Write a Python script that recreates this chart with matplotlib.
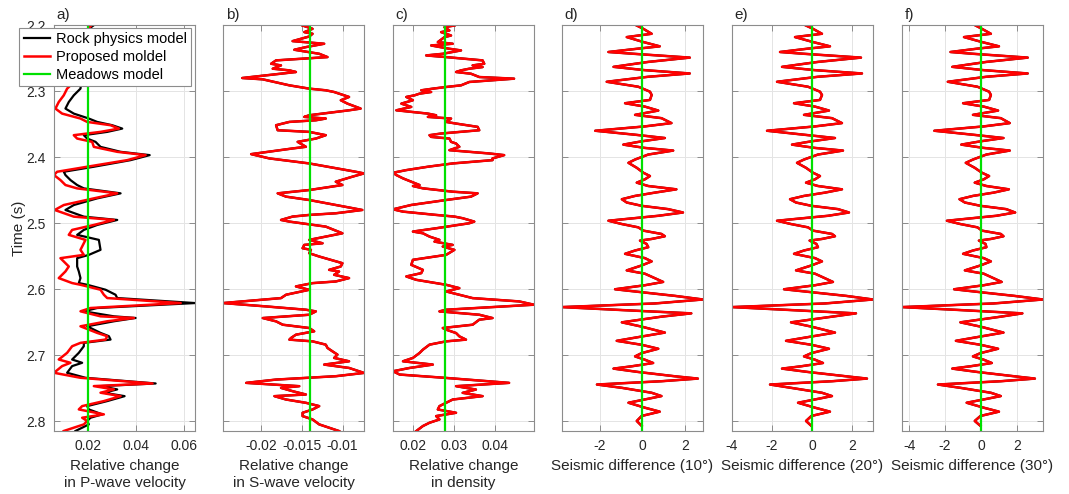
import numpy as np
import matplotlib
matplotlib.use("Agg")
import matplotlib.pyplot as plt

plt.rcParams['font.family'] = ['Liberation Sans', 'DejaVu Sans']
plt.rcParams['axes.unicode_minus'] = False

# panel a: relative change in P-wave velocity
ta = [2.200, 2.204, 2.215, 2.230, 2.245, 2.260, 2.275, 2.290, 2.2964, 2.3065, 2.3166, 2.3266, 2.3342, 2.3417,
      2.3468, 2.3518, 2.3569, 2.3619, 2.3669, 2.372, 2.377, 2.3846, 2.3921, 2.3971, 2.4047, 2.4147, 2.4223,
      2.4273, 2.4349, 2.4424, 2.4475, 2.455, 2.4626, 2.4727, 2.4802, 2.4903, 2.4953, 2.5029, 2.5104, 2.5179,
      2.5255, 2.5406, 2.5482, 2.5532, 2.5658, 2.5733, 2.5834, 2.5909, 2.5935, 2.601, 2.6086, 2.6136, 2.6212,
      2.6287, 2.6337, 2.6413, 2.6438, 2.6488, 2.6564, 2.6664, 2.6714, 2.6765, 2.6815, 2.6866, 2.6966, 2.7067,
      2.7117, 2.7167, 2.7268, 2.7344, 2.743, 2.747, 2.752, 2.757, 2.7622, 2.7697, 2.7773, 2.7823, 2.7898,
      2.7949, 2.7999, 2.805, 2.815]
vp_proposed = [0.0215, 0.0205, 0.018, 0.016, 0.019, 0.014, 0.017, 0.013, 0.0112, 0.0098, 0.0077, 0.0063, 0.0091,
               0.0168, 0.0196, 0.0294, 0.0329, 0.0252, 0.0140, 0.0154, 0.0217, 0.0224, 0.0322, 0.0441, 0.0364,
               0.0196, 0.0070, 0.0057, 0.0084, 0.0105, 0.0154, 0.0322, 0.0224, 0.0098, 0.0060, 0.0140, 0.0308,
               0.0224, 0.0133, 0.0119, 0.0189, 0.0168, 0.0182, 0.0084, 0.0119, 0.0105, 0.0077, 0.0133, 0.0168,
               0.0252, 0.0266, 0.0280, 0.0588, 0.0210, 0.0168, 0.0252, 0.0392, 0.0280, 0.0168, 0.0238, 0.0280,
               0.0273, 0.0168, 0.0133, 0.0112, 0.0077, 0.0126, 0.0091, 0.0057, 0.0168, 0.0470, 0.0224, 0.0308,
               0.0252, 0.0336, 0.0266, 0.0175, 0.0161, 0.0266, 0.0175, 0.0196, 0.0182, 0.0098]
vp_rock = [0.0225, 0.0210, 0.021, 0.019, 0.022, 0.018, 0.020, 0.017, 0.0168, 0.0140, 0.0119, 0.0105, 0.0140,
           0.0203, 0.0238, 0.0301, 0.0343, 0.0280, 0.0182, 0.0196, 0.0231, 0.0252, 0.0336, 0.0458, 0.0378,
           0.0224, 0.0098, 0.0105, 0.0126, 0.0154, 0.0182, 0.0336, 0.0238, 0.0140, 0.0105, 0.0182, 0.0322,
           0.0238, 0.0182, 0.0154, 0.0245, 0.0252, 0.0203, 0.0154, 0.0154, 0.0161, 0.0168, 0.0161, 0.0196,
           0.0273, 0.0315, 0.0322, 0.0648, 0.0238, 0.0182, 0.0308, 0.0399, 0.0308, 0.0196, 0.0252, 0.0287,
           0.0294, 0.0182, 0.0182, 0.0161, 0.0133, 0.0175, 0.0133, 0.0112, 0.0189, 0.0483, 0.0252, 0.0322,
           0.0266, 0.0353, 0.0280, 0.0196, 0.0203, 0.0259, 0.0210, 0.0196, 0.0203, 0.0147]

# panel b: relative change in S-wave velocity
tb = [2.2008, 2.2058, 2.2108, 2.2133, 2.2174, 2.2244, 2.2284, 2.2335, 2.2375, 2.2436, 2.2486, 2.2536, 2.2587,
      2.2612, 2.2662, 2.2687, 2.2712, 2.2803, 2.2823, 2.2914, 2.2964, 2.2989, 2.3015, 2.309, 2.314, 2.3191,
      2.3266, 2.3292, 2.3367, 2.3392, 2.3417, 2.3443, 2.3468, 2.3518, 2.3594, 2.3619, 2.3669, 2.372, 2.377,
      2.3845, 2.387, 2.3956, 2.4021, 2.4097, 2.4223, 2.4248, 2.4298, 2.4374, 2.4424, 2.45, 2.455, 2.46,
      2.4651, 2.4802, 2.4852, 2.4877, 2.4902, 2.4953, 2.4978, 2.5054, 2.5105, 2.5155, 2.5205, 2.5255,
      2.5306, 2.5331, 2.5381, 2.5406, 2.5457, 2.5507, 2.5608, 2.5658, 2.5709, 2.5734, 2.5784, 2.5834,
      2.5885, 2.591, 2.596, 2.6011, 2.6086, 2.6137, 2.6212, 2.6263, 2.6313, 2.6338, 2.6389, 2.6439, 2.6489,
      2.654, 2.659, 2.664, 2.6691, 2.6741, 2.6766, 2.6792, 2.6842, 2.6892, 2.6943, 2.6993, 2.7043, 2.7094,
      2.7144, 2.7195, 2.727, 2.732, 2.7371, 2.7421, 2.7471, 2.7497, 2.7547, 2.7597, 2.7622, 2.7673, 2.7723,
      2.7773, 2.7824, 2.7874, 2.7924, 2.7975, 2.805, 2.8151]
vs_proposed = [-0.01493, -0.0137, -0.01472, -0.0137, -0.01411, -0.01616, -0.01227, -0.01452, -0.01595,
               -0.01288, -0.01186, -0.0182, -0.01881, -0.01759, -0.01861, -0.01656, -0.01575, -0.02237,
               -0.01984, -0.01656, -0.01411, -0.01207, -0.01104, -0.0092, -0.01022, -0.0094, -0.00777,
               -0.0092, -0.01411, -0.01472, -0.01207, -0.01329, -0.01656, -0.0182, -0.018, -0.01411,
               -0.01207, -0.01329, -0.01554, -0.01452, -0.01616, -0.02127, -0.01902, -0.01411, -0.00838,
               -0.00736, -0.0088, -0.01084, -0.01002, -0.01411, -0.018, -0.01697, -0.01411, -0.00757,
               -0.01084, -0.01411, -0.01616, -0.01759, -0.01656, -0.01207, -0.01104, -0.01002, -0.01207,
               -0.01411, -0.01247, -0.01472, -0.01493, -0.0139, -0.01411, -0.01288, -0.01002, -0.01022,
               -0.01166, -0.01043, -0.01104, -0.0092, -0.01084, -0.0137, -0.01575, -0.01411, -0.01697,
               -0.01759, -0.02474, -0.01943, -0.01452, -0.01329, -0.01411, -0.01984, -0.0182, -0.01738,
               -0.01411, -0.0135, -0.01575, -0.01636, -0.01656, -0.0137, -0.01207, -0.01186, -0.01125,
               -0.01063, -0.01104, -0.0092, -0.01227, -0.0092, -0.00736, -0.01084, -0.0182, -0.02188,
               -0.01534, -0.01759, -0.01616, -0.01452, -0.0184, -0.01697, -0.01452, -0.01288, -0.0137,
               -0.01493, -0.01493, -0.0137, -0.01288, -0.01043]

# panel c: relative change in density
tc = [2.2008, 2.2033, 2.2083, 2.2108, 2.2159, 2.2184, 2.2259, 2.2284, 2.231, 2.236, 2.2385, 2.2436, 2.2461,
      2.2486, 2.2536, 2.2587, 2.2612, 2.2637, 2.2662, 2.2687, 2.2712, 2.2738, 2.2788, 2.2813, 2.2863, 2.2914,
      2.2939, 2.2964, 2.2989, 2.3015, 2.304, 2.3065, 2.309, 2.314, 2.3191, 2.3241, 2.3292, 2.3342, 2.3367,
      2.3392, 2.3417, 2.3468, 2.3493, 2.3543, 2.3594, 2.3644, 2.3669, 2.3695, 2.372, 2.377, 2.3795, 2.3845,
      2.3896, 2.3946, 2.3971, 2.4021, 2.4047, 2.4097, 2.4147, 2.4198, 2.4238, 2.4273, 2.4323, 2.4374, 2.4424,
      2.4439, 2.4474, 2.4525, 2.455, 2.46, 2.4651, 2.4726, 2.4792, 2.4827, 2.4877, 2.4902, 2.4927, 2.4978,
      2.5003, 2.5079, 2.5129, 2.5155, 2.5205, 2.5255, 2.5281, 2.5331, 2.5356, 2.5406, 2.5482, 2.5557, 2.5633,
      2.5709, 2.5759, 2.5809, 2.586, 2.5935, 2.5986, 2.6036, 2.6086, 2.6137, 2.6187, 2.6237, 2.6313, 2.6338,
      2.6389, 2.6439, 2.6464, 2.654, 2.659, 2.6615, 2.6666, 2.6716, 2.6766, 2.6792, 2.6842, 2.6918, 2.6968,
      2.7043, 2.7094, 2.7144, 2.7195, 2.7245, 2.7295, 2.7346, 2.7421, 2.7471, 2.7522, 2.7572, 2.7622, 2.7673,
      2.7773, 2.7824, 2.7874, 2.7924, 2.7975, 2.8025, 2.8075, 2.8151]
rho_proposed = [0.03008, 0.02766, 0.02887, 0.02685, 0.02927, 0.02766, 0.02605, 0.02967, 0.02443, 0.02887,
                0.03169, 0.02725, 0.02322, 0.02806, 0.03693, 0.03733, 0.03451, 0.03693, 0.0337, 0.03169,
                0.03048, 0.0341, 0.03612, 0.04458, 0.0337, 0.03169, 0.02806, 0.02484, 0.02202, 0.02443,
                0.02161, 0.0204, 0.01839, 0.02, 0.01718, 0.0196, 0.01597, 0.02363, 0.02564, 0.02363, 0.02927,
                0.02806, 0.03048, 0.03572, 0.03612, 0.02685, 0.02403, 0.02443, 0.02887, 0.02927, 0.03048,
                0.03128, 0.02887, 0.03854, 0.04217, 0.03934, 0.03934, 0.02967, 0.02363, 0.01839, 0.01516,
                0.01597, 0.01758, 0.0196, 0.02161, 0.02, 0.02242, 0.02967, 0.03572, 0.0341, 0.02806, 0.0196,
                0.01516, 0.01758, 0.02564, 0.03008, 0.03209, 0.03491, 0.0337, 0.02564, 0.02, 0.02242, 0.02403,
                0.02645, 0.02524, 0.02967, 0.02725, 0.03008, 0.02806, 0.02, 0.0196, 0.02242, 0.02202, 0.01839,
                0.02081, 0.02806, 0.03128, 0.02806, 0.03128, 0.03451, 0.04579, 0.04942, 0.02806, 0.02645,
                0.03612, 0.03934, 0.03612, 0.03451, 0.02725, 0.02806, 0.03048, 0.03128, 0.0329, 0.02806,
                0.02403, 0.02242, 0.02161, 0.02, 0.01758, 0.02484, 0.01919, 0.01516, 0.01678, 0.02806, 0.04337,
                0.03048, 0.03531, 0.03209, 0.03693, 0.02967, 0.02645, 0.02605, 0.03048, 0.02564, 0.02645,
                0.02403, 0.02242, 0.02081]

# panels d-f: seismic differences at 10, 20 and 30 degrees
td = [2.2008, 2.2058, 2.2133, 2.2183, 2.2258, 2.2323, 2.2358, 2.2409, 2.2434, 2.2494, 2.2559, 2.2634, 2.2684,
      2.2734, 2.2784, 2.286, 2.2935, 2.301, 2.306, 2.3135, 2.3185, 2.3236, 2.3296, 2.3361, 2.3411, 2.3486,
      2.3536, 2.3602, 2.3662, 2.3712, 2.3762, 2.3812, 2.3862, 2.3902, 2.3962, 2.4038, 2.4088, 2.4163, 2.4238,
      2.4288, 2.4338, 2.4388, 2.4439, 2.4489, 2.4539, 2.4589, 2.4639, 2.4689, 2.4739, 2.4789, 2.484, 2.489,
      2.4965, 2.5015, 2.5065, 2.5115, 2.5165, 2.52, 2.5241, 2.5266, 2.5316, 2.5366, 2.5416, 2.5466, 2.5531,
      2.5581, 2.5642, 2.5717, 2.5767, 2.5892, 2.5942, 2.6003, 2.6053, 2.6103, 2.6158, 2.6218, 2.6273, 2.6318,
      2.6368, 2.6418, 2.6504, 2.6569, 2.6659, 2.6719, 2.6784, 2.6844, 2.6904, 2.697, 2.702, 2.707, 2.712,
      2.717, 2.7205, 2.7256, 2.7321, 2.7356, 2.7396, 2.7446, 2.7496, 2.7571, 2.7621, 2.7672, 2.7722, 2.7797,
      2.7857, 2.7922, 2.7998, 2.8073]
seis10 = [-0.26, 0.05, 0.44, -0.73, 0.05, 0.82, -0.19, -1.59, -0.50, 2.23, 0.28, -1.35, 0.12, 2.23, 0.28,
          -1.67, -0.19, 0.36, 0.44, 0.36, -0.81, 0.12, 0.75, -0.34, 0.90, 1.37, 0.12, -2.21, -0.34, 1.06,
          -0.03, -0.89, 0.12, 1.45, 0.28, -0.34, -0.65, -0.26, 0.05, 0.36, 0.12, -0.26, 0.28, 1.60, 0.59,
          -0.34, -0.96, -0.73, -0.03, 1.21, 1.91, 0.75, -1.59, -0.96, -0.19, 0.05, 0.90, 1.06, 0.44, -0.11,
          0.20, 0.28, -0.34, -0.81, 0.12, 0.44, -0.03, -0.73, 0.12, 0.98, 0.12, -1.28, 0.12, 1.53, 2.85,
          0.59, -3.77, -0.96, 2.30, 0.90, -0.96, -0.03, 1.06, -0.03, -1.20, -0.03, 0.75, -0.03, -0.34,
          0.12, 0.51, -0.50, -1.35, -0.19, 1.53, 2.61, 0.90, -2.13, -0.96, 0.44, 0.90, 0.12, -0.65, 0.12,
          0.82, -0.03, -0.26, -0.03]
seis20 = [-0.3, 0.05, 0.5, -0.85, 0.05, 0.9, -0.2, -1.6, -0.5, 2.45, 0.3, -1.5, 0.15, 2.5, 0.3, -1.75, -0.2,
          0.4, 0.5, 0.4, -0.9, 0.15, 0.85, -0.4, 1.0, 1.5, 0.15, -2.25, -0.4, 1.15, -0.03, -1.0, 0.15, 1.55,
          0.3, -0.4, -0.75, -0.3, 0.05, 0.4, 0.15, -0.3, 0.3, 1.5, 0.65, -0.4, -1.1, -0.8, -0.03, 1.3, 1.85,
          0.8, -1.75, -1.05, -0.2, 0.05, 1.0, 1.15, 0.5, -0.12, 0.22, 0.3, -0.4, -0.9, 0.15, 0.5, -0.03,
          -0.8, 0.15, 1.05, 0.15, -1.4, 0.15, 1.7, 3.05, 0.65, -4.0, -1.05, 2.2, 1.0, -1.05, -0.03, 1.15,
          -0.03, -1.3, -0.03, 0.85, -0.03, -0.4, 0.15, 0.55, -0.55, -1.5, -0.2, 1.7, 2.75, 1.0, -2.1, -1.05,
          0.5, 1.0, 0.15, -0.7, 0.15, 0.9, -0.03, -0.3, -0.03]
seis30 = [-0.3, 0.05, 0.55, -0.95, 0.05, 1.0, -0.2, -1.7, -0.55, 2.6, 0.3, -1.6, 0.15, 2.6, 0.3, -1.85, -0.2,
          0.45, 0.55, 0.45, -1.0, 0.15, 0.95, -0.45, 1.1, 1.6, 0.15, -2.6, -0.45, 1.25, -0.03, -1.1, 0.15,
          1.6, 0.3, -0.45, -0.85, -0.35, 0.05, 0.45, 0.15, -0.35, 0.3, 1.55, 0.7, -0.45, -1.2, -0.9, -0.03,
          1.4, 1.9, 0.85, -1.9, -1.15, -0.2, 0.05, 1.1, 1.25, 0.55, -0.12, 0.25, 0.3, -0.45, -1.0, 0.15, 0.55,
          -0.03, -0.9, 0.15, 1.15, 0.15, -1.5, 0.15, 1.85, 3.45, 0.7, -4.4, -1.15, 2.3, 1.1, -1.15, -0.03,
          1.25, -0.03, -1.4, -0.03, 0.95, -0.03, -0.45, 0.15, 0.6, -0.6, -1.6, -0.2, 1.85, 3.0, 1.1, -2.4,
          -1.15, 0.55, 1.1, 0.15, -0.8, 0.15, 1.0, -0.03, -0.35, -0.03]

meadows = [0.0198, -0.0140, 0.0279, 0.0, 0.0, 0.0]

xlabels = ['Relative change\nin P-wave velocity', 'Relative change\nin S-wave velocity',
           'Relative change\nin density', 'Seismic difference (10°)', 'Seismic difference (20°)',
           'Seismic difference (30°)']
letters = ['a)', 'b)', 'c)', 'd)', 'e)', 'f)']
xticks = [[0.02, 0.04, 0.06], [-0.02, -0.015, -0.01], [0.02, 0.03, 0.04], [-2, 0, 2], [-4, -2, 0, 2], [-4, -2, 0, 2]]
xticklabels = [['0.02', '0.04', '0.06'], ['-0.02', '-0.015', '-0.01'], ['0.02', '0.03', '0.04'],
               ['-2', '0', '2'], ['-4', '-2', '0', '2'], ['-4', '-2', '0', '2']]
yticks = [2.2, 2.3, 2.4, 2.5, 2.6, 2.7, 2.8]

curves = [(ta, vp_proposed, vp_rock), (tb, vs_proposed, vs_proposed), (tc, rho_proposed, rho_proposed),
          (td, seis10, seis10), (td, seis20, seis20), (td, seis30, seis30)]

fig = plt.figure(figsize=(10.69, 4.94), dpi=100)
lefts = [54, 223, 393, 562, 732, 902]
for i, left in enumerate(lefts):
    ax = fig.add_axes([left / 1069, 1 - 431 / 494, 141 / 1069, 406 / 494])
    t, prop, rock = curves[i]
    hr, = ax.plot(rock, t, color='black', lw=1.6)
    hp, = ax.plot(prop, t, color='red', lw=1.8)
    hm = ax.axvline(meadows[i], color='#00e000', lw=1.6)
    lo = min(min(prop), min(rock))
    hi = max(max(prop), max(rock))
    ax.set_xlim(lo, hi)
    ax.set_ylim(2.815, 2.2)
    ax.set_xticks(xticks[i])
    ax.set_xticklabels(xticklabels[i])
    ax.set_yticks(yticks)
    if i == 0:
        ax.set_yticklabels(['2.2', '2.3', '2.4', '2.5', '2.6', '2.7', '2.8'])
        ax.set_ylabel('Time (s)', fontsize=11, color='#262626', labelpad=0)
    else:
        ax.set_yticklabels([])
    ax.grid(True, color='#e4e4e4', lw=0.7)
    ax.set_axisbelow(True)
    ax.tick_params(direction='in', top=True, right=True, length=4, width=0.7, colors='#8c8c8c',
                   labelcolor='#262626', labelsize=10, pad=6)
    for s in ax.spines.values():
        s.set_color('#8c8c8c')
        s.set_linewidth(0.8)
    ax.set_xlabel(xlabels[i], fontsize=11, color='#262626', linespacing=1.3, labelpad=4)
    ax.text(0.02, 1.008, letters[i], transform=ax.transAxes, fontsize=11, color='#262626', va='bottom')
    if i == 0:
        leg = ax.legend([hr, hp, hm], ['Rock physics model', 'Proposed moldel', 'Meadows model'],
                        loc='upper right', bbox_to_anchor=(191 / 1069, 1 - 28 / 494),
                        bbox_transform=fig.transFigure, fontsize=10.5, frameon=True, fancybox=False,
                        framealpha=1, edgecolor='#8c8c8c', handlelength=1.8, handletextpad=0.4,
                        borderpad=0.3, labelspacing=0.25, borderaxespad=0)
        leg.get_frame().set_linewidth(0.8)
        leg.set_zorder(10)

fig.savefig('out.png', dpi=100)
